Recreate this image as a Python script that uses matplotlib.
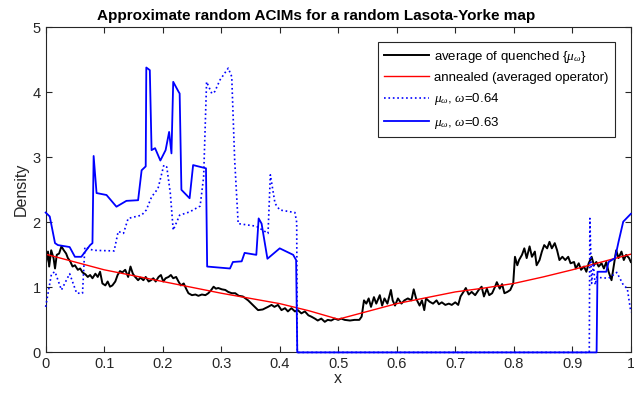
import matplotlib
matplotlib.use("Agg")
import matplotlib.pyplot as plt
import numpy as np

plt.rcParams['font.family'] = ['Liberation Sans', 'DejaVu Sans']
plt.rcParams['mathtext.fontset'] = 'custom'
plt.rcParams['mathtext.it'] = 'Liberation Serif:italic'
plt.rcParams['mathtext.rm'] = 'Liberation Sans'

# annealed (averaged operator)
red_x = [0.0, 0.05, 0.1, 0.15, 0.2, 0.25, 0.3, 0.35, 0.4, 0.45, 0.5,
         0.55, 0.6, 0.65, 0.7, 0.75, 0.8, 0.85, 0.9, 0.95, 1.0]
red_y = [1.51, 1.39, 1.27, 1.18, 1.09, 1.00, 0.91, 0.83, 0.75, 0.64, 0.51,
         0.63, 0.75, 0.84, 0.93, 0.99, 1.06, 1.16, 1.27, 1.39, 1.51]

# average of quenched densities
black_x = [0.0, 0.004, 0.006, 0.0095, 0.0135, 0.016, 0.019, 0.023, 0.027, 0.031,
           0.035, 0.038, 0.042, 0.046, 0.050, 0.055, 0.059, 0.063, 0.068, 0.072,
           0.076, 0.080, 0.085, 0.089, 0.093, 0.097, 0.102, 0.106, 0.110, 0.114,
           0.119, 0.123, 0.127, 0.131, 0.136, 0.141, 0.145, 0.149, 0.153, 0.158,
           0.162, 0.167, 0.171, 0.176, 0.180, 0.184, 0.188, 0.193, 0.197, 0.201,
           0.205, 0.210, 0.214, 0.218, 0.223, 0.227, 0.231, 0.236, 0.240, 0.244,
           0.250, 0.256, 0.261, 0.267, 0.273, 0.278, 0.283, 0.287, 0.291, 0.295,
           0.301, 0.307, 0.312, 0.318, 0.324, 0.330, 0.337, 0.346, 0.354, 0.363,
           0.371, 0.380, 0.386, 0.391, 0.397, 0.403, 0.409, 0.414, 0.420, 0.426,
           0.431, 0.437, 0.443, 0.449, 0.454, 0.460, 0.465, 0.471, 0.477, 0.482,
           0.488, 0.494, 0.500, 0.505, 0.511, 0.520, 0.528, 0.536, 0.540, 0.544,
           0.548, 0.552, 0.556, 0.561, 0.565, 0.571, 0.575, 0.579, 0.584, 0.590,
           0.593, 0.597, 0.602, 0.608, 0.613, 0.619, 0.625, 0.629, 0.633, 0.639,
           0.643, 0.647, 0.650, 0.656, 0.662, 0.668, 0.672, 0.677, 0.683, 0.689,
           0.694, 0.700, 0.705, 0.709, 0.714, 0.718, 0.723, 0.728, 0.734, 0.740,
           0.745, 0.749, 0.754, 0.758, 0.763, 0.768, 0.771, 0.776, 0.780, 0.784,
           0.789, 0.794, 0.799, 0.802, 0.806, 0.809, 0.814, 0.818, 0.822, 0.827,
           0.831, 0.836, 0.839, 0.844, 0.848, 0.852, 0.857, 0.861, 0.865, 0.870,
           0.874, 0.878, 0.883, 0.888, 0.893, 0.897, 0.903, 0.906, 0.911, 0.915,
           0.920, 0.924, 0.928, 0.933, 0.937, 0.941, 0.945, 0.950, 0.954, 0.958,
           0.962, 0.967, 0.971, 0.975, 0.979, 0.984, 0.988, 0.992, 0.997, 1.0]
black_y = [1.34, 1.55, 1.32, 1.57, 1.45, 1.29, 1.50, 1.52, 1.63, 1.57,
           1.52, 1.45, 1.40, 1.32, 1.34, 1.27, 1.29, 1.23, 1.20, 1.16,
           1.19, 1.14, 1.21, 1.16, 1.24, 1.06, 1.03, 1.09, 1.01, 1.03,
           1.09, 1.19, 1.25, 1.23, 1.27, 1.16, 1.32, 1.21, 1.16, 1.11,
           1.15, 1.11, 1.16, 1.09, 1.11, 1.14, 1.09, 1.16, 1.19, 1.09,
           1.14, 1.16, 1.19, 1.14, 1.16, 1.09, 1.03, 1.06, 0.98, 0.91,
           0.88, 0.89, 0.87, 0.89, 0.88, 0.91, 0.96, 1.01, 0.98, 0.99,
           0.97, 0.96, 0.93, 0.91, 0.91, 0.87, 0.86, 0.80, 0.73, 0.65,
           0.66, 0.70, 0.73, 0.70, 0.73, 0.65, 0.68, 0.63, 0.68, 0.63,
           0.65, 0.60, 0.63, 0.57, 0.55, 0.52, 0.49, 0.52, 0.47, 0.50,
           0.49, 0.52, 0.50, 0.52, 0.50, 0.49, 0.50, 0.50, 0.55, 0.80,
           0.75, 0.83, 0.70, 0.85, 0.75, 0.88, 0.72, 0.83, 0.75, 0.96,
           0.80, 0.72, 0.83, 0.75, 0.80, 0.83, 0.80, 0.97, 0.83, 0.72,
           0.80, 0.65, 0.83, 0.78, 0.75, 0.80, 0.74, 0.77, 0.73, 0.75,
           0.73, 0.77, 0.73, 0.86, 0.93, 0.99, 0.89, 0.93, 0.88, 0.96,
           1.01, 0.86, 0.98, 0.88, 0.91, 1.01, 1.08, 0.98, 1.05, 0.91,
           0.93, 0.96, 1.06, 1.47, 1.34, 1.42, 1.50, 1.60, 1.45, 1.63,
           1.47, 1.55, 1.34, 1.42, 1.55, 1.65, 1.60, 1.70, 1.60, 1.68,
           1.57, 1.42, 1.47, 1.42, 1.47, 1.37, 1.39, 1.29, 1.37, 1.27,
           1.32, 1.24, 1.37, 1.47, 1.34, 1.39, 1.32, 1.37, 1.29, 1.39,
           1.24, 1.11, 1.34, 1.57, 1.45, 1.55, 1.42, 1.50, 1.45, 1.39]

# mu_omega, omega = 0.64 (dotted)
dot_x = [0.0, 0.010, 0.016, 0.027, 0.041, 0.053, 0.063, 0.067, 0.081, 0.117,
         0.124, 0.133, 0.141, 0.164, 0.172, 0.181, 0.192, 0.202, 0.207, 0.213,
         0.218, 0.229, 0.246, 0.264, 0.270, 0.275, 0.284, 0.289, 0.298, 0.312,
         0.318, 0.323, 0.329, 0.360, 0.380, 0.384, 0.392, 0.400, 0.426, 0.429,
         0.430, 0.929, 0.930, 0.933, 0.936, 0.939, 0.942, 0.947, 0.962, 0.976,
         0.987, 0.994, 1.0]
dot_y = [0.70, 1.21, 1.24, 0.96, 1.21, 0.91, 0.91, 1.62, 1.57, 1.56,
         1.86, 1.83, 2.06, 2.11, 2.19, 2.39, 2.52, 2.88, 2.85, 2.45,
         1.88, 2.11, 2.16, 2.25, 2.70, 4.16, 3.98, 4.01, 4.19, 4.37,
         4.24, 2.96, 1.98, 1.94, 1.83, 2.73, 2.29, 2.19, 2.15, 2.00,
         0.0, 0.0, 2.06, 1.06, 1.37, 1.04, 1.16, 1.15, 1.14, 1.23,
         1.04, 0.98, 0.62]

# mu_omega, omega = 0.63 (solid)
sol_x = [0.0, 0.007, 0.016, 0.021, 0.041, 0.050, 0.061, 0.076, 0.080, 0.082,
         0.087, 0.104, 0.121, 0.138, 0.158, 0.164, 0.171, 0.172, 0.178, 0.181,
         0.187, 0.196, 0.205, 0.211, 0.215, 0.218, 0.227, 0.229, 0.232, 0.246,
         0.252, 0.274, 0.276, 0.315, 0.320, 0.335, 0.340, 0.360, 0.364, 0.369,
         0.379, 0.400, 0.423, 0.428, 0.430, 0.9415, 0.943, 0.958, 0.962, 0.973,
         0.979, 0.987, 1.0]
sol_y = [2.15, 2.09, 1.68, 1.65, 1.62, 1.47, 1.47, 1.65, 1.68, 3.02,
         2.45, 2.42, 2.24, 2.33, 2.34, 2.80, 2.86, 4.38, 4.34, 3.11,
         3.14, 2.95, 3.11, 3.39, 3.06, 4.16, 4.01, 3.98, 2.50, 2.37,
         2.88, 2.83, 1.32, 1.29, 1.39, 1.40, 1.53, 1.50, 2.06, 1.98,
         1.44, 1.60, 1.50, 1.42, 0.0, 0.0, 1.24, 1.24, 1.39, 1.45,
         1.70, 2.01, 2.13]

fig = plt.figure(figsize=(6.34, 4.0), dpi=100)
ax = fig.add_axes([0.072, 0.119, 0.923, 0.813])

ax.plot(black_x, black_y, color='k', lw=1.4, label=r'average of quenched $\{\mu_\omega\}$')
ax.plot(red_x, red_y, color='r', lw=1.0, label='annealed (averaged operator)')
ax.plot(dot_x, dot_y, color='b', lw=1.2, ls=':', clip_on=False, zorder=3,
        label=r'$\mu_\omega$, $\omega$=0.64')
ax.plot(sol_x, sol_y, color='b', lw=1.3, clip_on=False, zorder=3,
        label=r'$\mu_\omega$, $\omega$=0.63')

ax.set_xlim(0, 1)
ax.set_ylim(0, 5)
ax.set_xticks(np.arange(0, 1.01, 0.1))
ax.set_xticklabels(['0', '0.1', '0.2', '0.3', '0.4', '0.5', '0.6', '0.7', '0.8', '0.9', '1'])
ax.set_yticks([0, 1, 2, 3, 4, 5])
ax.tick_params(direction='in', top=True, right=True, labelsize=10.5, colors='0.15', length=4)
for s in ax.spines.values():
    s.set_color('0.15')
    s.set_linewidth(0.8)

ax.set_xlabel('x', fontsize=11.5, color='0.15', labelpad=0)
ax.set_ylabel('Density', fontsize=11.5, color='0.15', labelpad=3)
ax.set_title('Approximate random ACIMs for a random Lasota-Yorke map',
             fontsize=11, fontweight='bold', pad=5, x=0.462)

leg = ax.legend(loc='upper right', fontsize=9.5, handlelength=3.4, handletextpad=0.4,
                borderpad=0.5, labelspacing=0.55, fancybox=False, framealpha=1,
                bbox_to_anchor=(0.985, 0.975))
leg.get_frame().set_edgecolor('0.15')
leg.get_frame().set_linewidth(0.8)

fig.savefig('out.png', dpi=100)
